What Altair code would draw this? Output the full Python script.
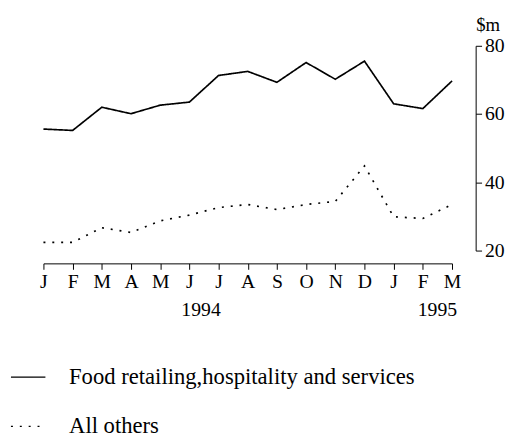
import altair as alt
import pandas as pd

months = ["J", "F", "M", "A", "M", "J", "J", "A", "S", "O", "N", "D", "J", "F", "M"]
food = [55.6, 55.2, 62.0, 60.1, 62.6, 63.5, 71.3, 72.5, 69.3, 75.1, 70.2, 75.5, 63.0, 61.6, 69.7]
others = [22.4, 22.4, 26.7, 25.3, 28.7, 30.4, 32.6, 33.5, 32.0, 33.5, 34.4, 44.8, 29.9, 29.4, 33.5]
series_names = ["Food retailing,hospitality and services", "All others"]
years = ["1994", "1995"]
year_pos = [5.4, 13.5]

rows = []
for i, v in enumerate(food):
    rows.append({"idx": i, "value": v, "series": series_names[0]})
for i, v in enumerate(others):
    rows.append({"idx": i, "value": v, "series": series_names[1]})
df = pd.DataFrame(rows)
ydf = pd.DataFrame({"year": years, "pos": year_pos})

FONT = "Liberation Serif"
month_expr = "[" + ",".join("'" + m + "'" for m in months) + "][datum.value]"

x_scale = alt.Scale(domain=[0, 14], nice=False, zero=False)
x_axis = alt.Axis(values=list(range(15)), labelExpr=month_expr, title=None,
                  offset=13, tickSize=6, labelPadding=3, labelFontSize=20,
                  labelFont=FONT, labelColor="black", domainColor="black",
                  tickColor="black", grid=False, labelOverlap=False,
                  labelSeparation=0, labelFlush=False)

lines = alt.Chart(df).mark_line(color="black", strokeWidth=1.7).encode(
    x=alt.X("idx:Q", scale=x_scale, axis=x_axis),
    y=alt.Y("value:Q", scale=alt.Scale(domain=[20, 80], nice=False, zero=False),
            axis=alt.Axis(orient="right", values=[20, 40, 60, 80], offset=24, tickSize=6,
                          labelPadding=3, labelFontSize=20, labelFont=FONT,
                          labelColor="black", domainColor="black", tickColor="black",
                          grid=False, title="$m", titleAngle=0, titleX=0, titleY=-16,
                          titleAlign="left", titleBaseline="alphabetic",
                          titleFont=FONT, titleFontSize=19, titleFontWeight="normal",
                          titleColor="black")),
    strokeDash=alt.StrokeDash("series:N",
        scale=alt.Scale(domain=series_names, range=[[1, 0], [2, 7]]),
        legend=alt.Legend(title=None, orient="none", legendX=-34, legendY=318,
                          symbolType="stroke", symbolSize=1225, symbolStrokeColor="black",
                          symbolStrokeWidth=1.3, labelFont=FONT, labelFontSize=23,
                          labelColor="black", labelOffset=23, rowPadding=19,
                          labelLimit=0)),
)

year_text = alt.Chart(ydf).mark_text(font=FONT, fontSize=20, color="black",
                                     baseline="middle", align="center").encode(
    x=alt.X("pos:Q", scale=x_scale, axis=x_axis),
    y=alt.value(268),
    text="year:N",
)

chart = alt.layer(lines, year_text).properties(
    width=415, height=208,
    autosize=alt.AutoSizeParams(type="none"),
    padding={"left": 36, "top": 35, "right": 66, "bottom": 188},
).configure_view(stroke=None)

chart.save("out.html", embed_options={"renderer": "svg", "actions": False})
